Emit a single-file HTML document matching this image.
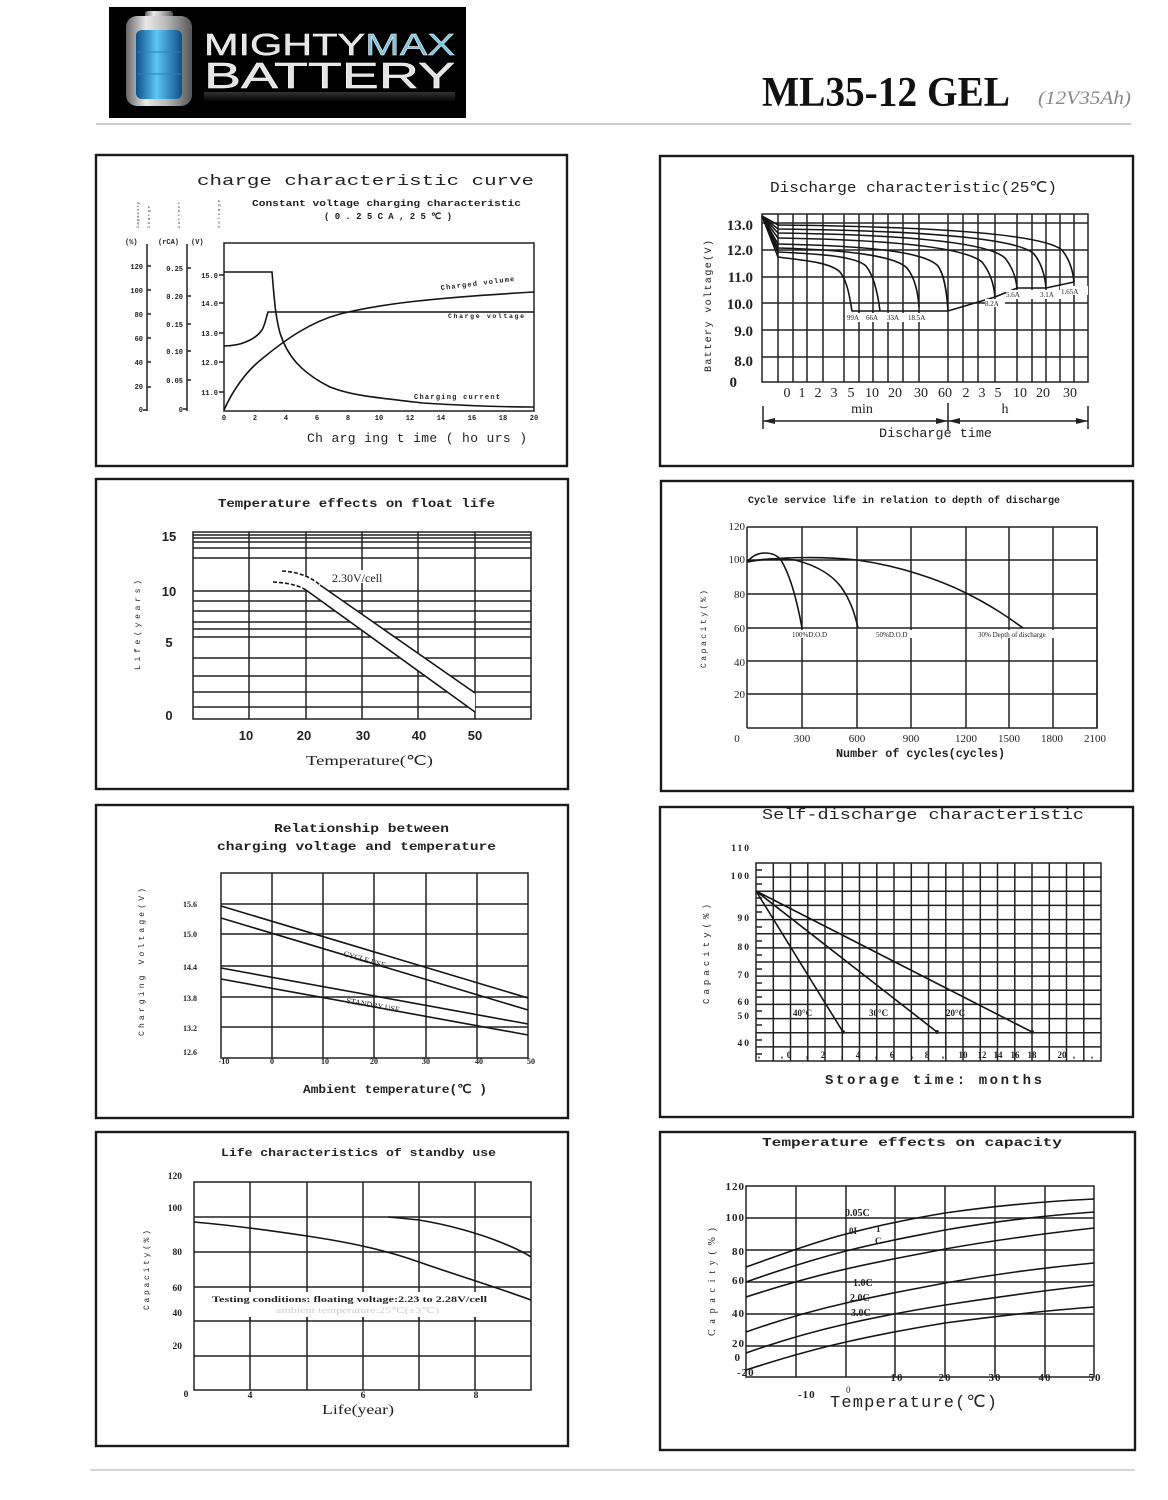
<!DOCTYPE html>
<html><head><meta charset="utf-8"><style>
html,body{margin:0;padding:0;background:#fff;}
svg{display:block;}
text{font-family:"Liberation Mono","DejaVu Sans Mono",monospace;fill:#222;}
text.s,.s text{font-family:"Liberation Serif",serif;}
.b{font-weight:bold;}
.g{stroke:#222;stroke-width:1.5;fill:none;}
.c{stroke:#151515;stroke-width:1.6;fill:none;}
.box{stroke:#1a1a1a;stroke-width:2.4;fill:#fff;}
</style></head><body>
<svg width="1168" height="1500" viewBox="0 0 1168 1500" xmlns="http://www.w3.org/2000/svg">
<defs>
<linearGradient id="silver" x1="0" x2="1" y1="0" y2="0">
<stop offset="0" stop-color="#666"/><stop offset="0.3" stop-color="#e8e8e8"/><stop offset="0.6" stop-color="#bbb"/><stop offset="1" stop-color="#555"/>
</linearGradient>
<linearGradient id="blue" x1="0" x2="1" y1="0" y2="0">
<stop offset="0" stop-color="#0d4f8a"/><stop offset="0.45" stop-color="#5cc6f2"/><stop offset="1" stop-color="#0e4f88"/>
</linearGradient>
<linearGradient id="refl" x1="0" x2="0" y1="0" y2="1">
<stop offset="0" stop-color="#555"/><stop offset="1" stop-color="#000"/>
</linearGradient>
</defs>
<rect width="1168" height="1500" fill="#fff"/>

<!-- Header logo -->
<rect x="109" y="7" width="357" height="111" fill="#000"/>
<rect x="145" y="11" width="28" height="9" rx="3" fill="url(#silver)"/>
<rect x="126" y="16" width="66" height="90" rx="11" fill="url(#silver)"/>
<rect x="136" y="30" width="46" height="69" rx="6" fill="url(#blue)"/>
<line x1="137" y1="52" x2="181" y2="52" stroke="#2a80bd" stroke-width="1"/>
<line x1="137" y1="74" x2="181" y2="74" stroke="#2a80bd" stroke-width="1"/>
<text x="204" y="55" textLength="251" lengthAdjust="spacingAndGlyphs" style="font-family:'Liberation Sans',sans-serif;font-size:31px;fill:#e4e4e4;stroke:#fff;stroke-width:0.4">MIGHTY<tspan style="fill:#7cc3df">MAX</tspan></text>
<text x="204" y="88" textLength="251" lengthAdjust="spacingAndGlyphs" style="font-family:'Liberation Sans',sans-serif;font-size:36px;fill:#e4e4e4;stroke:#fff;stroke-width:0.4">BATTERY</text>
<rect x="204" y="92" width="251" height="10" fill="url(#refl)" opacity="0.6"/>

<text x="762" y="106" textLength="248" lengthAdjust="spacingAndGlyphs" class="s b" style="font-size:42px;fill:#111">ML35-12 GEL</text>
<text x="1038" y="104" textLength="93" lengthAdjust="spacingAndGlyphs" class="s" style="font-size:19px;font-style:italic;fill:#888">(12V35Ah)</text>
<line x1="96" y1="124" x2="1131" y2="124" stroke="#aaa" stroke-width="1.2"/>
<line x1="90" y1="1470" x2="1135" y2="1470" stroke="#bbb" stroke-width="1.2"/>

<!-- ============ Chart 1 ============ -->
<rect class="box" x="96" y="155" width="471" height="311"/>
<text x="197" y="185" textLength="337" lengthAdjust="spacingAndGlyphs" style="font-size:15px">charge characteristic curve</text>
<text x="252" y="206" textLength="269" lengthAdjust="spacingAndGlyphs" class="b" style="font-size:9px">Constant voltage charging characteristic</text>
<text x="324" y="219" textLength="128" lengthAdjust="spacing" class="b" style="font-size:9px">(0.25CA,25℃)</text>
<g style="font-size:4px;fill:#777">
<text transform="translate(139,228) rotate(-90)" textLength="26">Capacity</text>
<text transform="translate(150,228) rotate(-90)" textLength="22">Charge</text>
<text transform="translate(180,228) rotate(-90)" textLength="26">Current</text>
<text transform="translate(220,228) rotate(-90)" textLength="28">Voltage</text>
</g>
<g class="b" style="font-size:7px">
<text x="125" y="244">(%)</text><text x="158" y="244">(rCA)</text><text x="191" y="244">(V)</text>
</g>
<path class="g" d="M147,244 L147,411 M187,244 L187,411" stroke-width="1"/>
<g class="g" stroke-width="1">
<path d="M147,266h4M147,290h4M147,314h4M147,338h4M147,362h4M147,387h4M147,410h-4"/>
<path d="M187,268h4M187,296h4M187,324h4M187,351h4M187,380h4M187,409h-4"/>
<path d="M219,275h5M219,303h5M219,333h5M219,362h5M219,392h5"/>
</g>
<g class="b" style="font-size:7px" text-anchor="end">
<text x="143" y="269">120</text><text x="143" y="293">100</text><text x="143" y="317">80</text><text x="143" y="341">60</text><text x="143" y="365">40</text><text x="143" y="389">20</text><text x="143" y="412">0</text>
<text x="183" y="271">0.25</text><text x="183" y="299">0.20</text><text x="183" y="327">0.15</text><text x="183" y="354">0.10</text><text x="183" y="383">0.05</text><text x="183" y="412">0</text>
<text x="218" y="278">15.0</text><text x="218" y="306">14.0</text><text x="218" y="336">13.0</text><text x="218" y="365">12.0</text><text x="218" y="395">11.0</text>
</g>
<rect class="g" x="224" y="243" width="310" height="168"/>
<g class="b" style="font-size:7px" text-anchor="middle">
<text x="224" y="420">0</text><text x="255" y="420">2</text><text x="286" y="420">4</text><text x="317" y="420">6</text><text x="348" y="420">8</text><text x="379" y="420">10</text><text x="410" y="420">12</text><text x="441" y="420">14</text><text x="472" y="420">16</text><text x="503" y="420">18</text><text x="534" y="420">20</text>
</g>
<path class="c" d="M224,272 L272,272 C274,295 275,315 280,333 C287,355 300,372 330,387 C350,395 370,397 423,403 C470,406 500,407 534,407"/>
<path class="c" d="M224,346 C240,346 255,340 262,330 C265,325 266,318 268,312 L534,312"/>
<path class="c" d="M224,410 C232,392 245,372 263,358 C285,340 310,322 340,314 C380,304 430,298 534,292"/>
<text transform="translate(441,290) rotate(-7)" textLength="74" class="b" style="font-size:7px">Charged volume</text>
<text x="448" y="318" textLength="76" class="b" style="font-size:6.5px">Charge voltage</text>
<text x="414" y="399" textLength="86" class="b" style="font-size:7px">Charging current</text>
<text x="307" y="442" textLength="220" lengthAdjust="spacing" style="font-size:13px">Ch arg ing t ime ( ho urs )</text>

<!-- ============ Chart 2 ============ -->
<rect class="box" x="660" y="156" width="473" height="310"/>
<text x="770" y="192" textLength="287" lengthAdjust="spacingAndGlyphs" style="font-size:15px">Discharge characteristic(25℃)</text>
<rect class="g" x="762" y="214" width="326" height="168"/>
<path class="g" d="M762,223H1088M762,250H1088M762,277H1088M762,303H1088M762,330H1088M762,357H1088"/>
<path class="g" d="M778,214V382M793,214V382M807,214V382M823,214V382M844,214V382M859,214V382M873,214V382M888,214V382M903,214V382M919,214V382M948,214V382M963,214V382M978,214V382M995,214V382M1017,214V382M1032,214V382M1046,214V382M1060,214V382M1074,214V382"/>
<g class="s b" style="font-size:15px" text-anchor="end">
<text x="753" y="230">13.0</text><text x="753" y="255">12.0</text><text x="753" y="282">11.0</text><text x="753" y="309">10.0</text><text x="753" y="336">9.0</text><text x="753" y="366">8.0</text><text x="737" y="387">0</text>
</g>
<text transform="translate(711,372) rotate(-90)" textLength="132" lengthAdjust="spacing" style="font-size:10px">Battery voltage(V)</text>
<g class="s" style="font-size:14px" text-anchor="middle">
<text x="787" y="397">0</text><text x="802" y="397">1</text><text x="818" y="397">2</text><text x="834" y="397">3</text><text x="851" y="397">5</text><text x="872" y="397">10</text><text x="895" y="397">20</text><text x="921" y="397">30</text><text x="945" y="397">60</text><text x="966" y="397">2</text><text x="982" y="397">3</text><text x="998" y="397">5</text><text x="1020" y="397">10</text><text x="1043" y="397">20</text><text x="1070" y="397">30</text>
</g>
<path class="c" d="M762,216 L778,257 C800,260 830,262 840,272 C848,282 850,300 852,311 L948,311 L995,297 L1017,288 L1046,288 L1074,282"/>
<path class="c" d="M762,216 L778,252 C820,254 855,256 866,266 C874,276 878,295 880,311"/>
<path class="c" d="M762,216 L778,248 C850,250 895,256 907,268 C915,278 918,292 919,307"/>
<path class="c" d="M762,216 L778,244 C870,246 925,252 938,266 C945,276 947,295 948,311"/>
<path class="c" d="M762,216 L778,238 C900,240 965,248 982,262 C990,272 994,285 995,297"/>
<path class="c" d="M762,216 L778,233 C920,235 990,244 1005,258 C1013,268 1016,278 1017,288"/>
<path class="c" d="M762,216 L778,229 C940,231 1020,240 1034,254 C1042,264 1045,276 1046,288"/>
<path class="c" d="M762,216 L778,225 C960,227 1045,236 1062,250 C1070,260 1073,272 1074,282"/>
<g class="s" style="font-size:7px">
<rect x="846" y="313" width="90" height="9" fill="#fff"/>
<text x="847" y="320">99A</text><text x="866" y="320">66A</text><text x="887" y="320">33A</text><text x="908" y="320">18.5A</text>
<rect x="985" y="299" width="20" height="8" fill="#fff"/>
<text x="985" y="306">8.2A</text>
<rect x="1006" y="290" width="60" height="9" fill="#fff"/>
<text x="1006" y="297">5.6A</text><text x="1040" y="297">3.1A</text>
<rect x="1060" y="286" width="28" height="9" fill="#fff"/>
<text x="1061" y="294">1.65A</text>
</g>
<text x="862" y="413" class="s" style="font-size:14px" text-anchor="middle">min</text>
<text x="1005" y="413" class="s" style="font-size:14px" text-anchor="middle">h</text>
<path class="g" d="M763,421H1088M763,406V429M948,403V431M1088,406V429" stroke-width="1.2"/>
<path d="M763,421l12,-3v6zM948,421l-12,-3v6zM948,421l12,-3v6zM1088,421l-12,-3v6z" fill="#222"/>
<text x="879" y="437" textLength="113" lengthAdjust="spacingAndGlyphs" style="font-size:13px">Discharge time</text>

<!-- ============ Chart 3 ============ -->
<rect class="box" x="96" y="479" width="472" height="310"/>
<text x="218" y="507" textLength="277" lengthAdjust="spacingAndGlyphs" class="b" style="font-size:12px">Temperature effects on float life</text>
<rect class="g" x="193" y="532" width="338" height="187"/>
<path class="g" d="M193,535H531M193,538H531M193,542H531M193,548H531M193,558H531M193,591H531M193,601H531M193,611H531M193,622H531M193,629H531M193,637H531M193,658H531M193,676H531M193,692H531M193,707H531"/>
<path class="g" d="M249,532V719M306,532V719M362,532V719M418,532V719M475,532V719"/>
<g style="font-family:'Liberation Sans',sans-serif;font-size:13px;font-weight:bold" text-anchor="middle">
<text x="169" y="541" style="font-family:'Liberation Sans',sans-serif">15</text><text x="169" y="596" style="font-family:'Liberation Sans',sans-serif">10</text><text x="169" y="647" style="font-family:'Liberation Sans',sans-serif">5</text><text x="169" y="720" style="font-family:'Liberation Sans',sans-serif">0</text>
<text x="246" y="740" style="font-family:'Liberation Sans',sans-serif">10</text><text x="304" y="740" style="font-family:'Liberation Sans',sans-serif">20</text><text x="363" y="740" style="font-family:'Liberation Sans',sans-serif">30</text><text x="419" y="740" style="font-family:'Liberation Sans',sans-serif">40</text><text x="475" y="740" style="font-family:'Liberation Sans',sans-serif">50</text>
</g>
<text transform="translate(140,670) rotate(-90)" textLength="90" lengthAdjust="spacing" style="font-size:8px">Life(years)</text>
<path d="M282,571 C300,572 312,578 320,585 L475,693 L475,712 L306,590 C298,585 285,582 273,582 Z" fill="#fff"/>
<path class="c" d="M282,571 C300,572 312,578 320,585" stroke-dasharray="4,2"/>
<path class="c" d="M320,585 L475,693"/>
<path class="c" d="M273,582 C290,583 300,586 306,590" stroke-dasharray="4,2"/>
<path class="c" d="M306,590 L475,712"/>
<rect x="330" y="570" width="75" height="13" fill="#fff"/>
<text x="332" y="582" class="s" style="font-size:12px">2.30V/cell</text>
<text x="306" y="765" textLength="127" lengthAdjust="spacingAndGlyphs" class="s" style="font-size:14px">Temperature(℃)</text>

<!-- ============ Chart 4 ============ -->
<rect class="box" x="661" y="481" width="472" height="310"/>
<text x="748" y="503" textLength="312" lengthAdjust="spacingAndGlyphs" class="b" style="font-size:10px">Cycle service life in relation to depth of discharge</text>
<path class="g" d="M747,527H1097V728H747M747,560H1097M747,594H1097M747,628H1097M747,661H1097M747,694H1097"/>
<path class="g" d="M747,527V728M802,527V728M857,527V728M911,527V728M966,527V728M1009,527V728M1053,527V728M1097,527V728"/>
<g class="s" style="font-size:11px">
<g text-anchor="end"><text x="745" y="530">120</text><text x="745" y="563">100</text><text x="745" y="598">80</text><text x="745" y="632">60</text><text x="745" y="666">40</text><text x="745" y="698">20</text></g>
<g text-anchor="middle"><text x="737" y="742">0</text><text x="802" y="742">300</text><text x="857" y="742">600</text><text x="911" y="742">900</text><text x="966" y="742">1200</text><text x="1009" y="742">1500</text><text x="1052" y="742">1800</text><text x="1095" y="742">2100</text></g>
</g>
<text transform="translate(706,668) rotate(-90)" textLength="78" lengthAdjust="spacing" style="font-size:8px">Capacity(%)</text>
<path class="c" d="M747,562 C752,556 758,553 765,553 C772,553 777,555 781,560 C788,572 795,590 802,628"/>
<path class="c" d="M747,562 C765,558 780,558 795,560 C815,565 835,575 845,593 C852,605 855,615 858,628"/>
<path class="c" d="M747,562 C775,557 820,556 857,560 C900,566 940,580 966,593 C990,605 1005,615 1023,628"/>
<g class="s" style="font-size:7px">
<rect x="790" y="630" width="50" height="8" fill="#fff"/><text x="792" y="637">100%D.O.D</text>
<rect x="874" y="630" width="44" height="8" fill="#fff"/><text x="876" y="637">50%D.O.D</text>
<rect x="976" y="630" width="108" height="8" fill="#fff"/><text x="978" y="637">30% Depth of discharge</text>
</g>
<text x="836" y="757" textLength="169" lengthAdjust="spacingAndGlyphs" class="b" style="font-size:12px">Number of cycles(cycles)</text>

<!-- ============ Chart 5 ============ -->
<rect class="box" x="96" y="805" width="472" height="313"/>
<text x="274" y="832" textLength="175" lengthAdjust="spacingAndGlyphs" class="b" style="font-size:12px">Relationship between</text>
<text x="217" y="850" textLength="279" lengthAdjust="spacingAndGlyphs" class="b" style="font-size:12px">charging voltage and temperature</text>
<rect class="g" x="221" y="873" width="307" height="185"/>
<path class="g" d="M221,904H528M221,934H528M221,966H528M221,997H528M221,1027H528"/>
<path class="g" d="M272,873V1058M323,873V1058M374,873V1058M426,873V1058M477,873V1058"/>
<g class="s b" style="font-size:8px;fill:#444">
<g text-anchor="end"><text x="197" y="907">15.6</text><text x="197" y="937">15.0</text><text x="197" y="970">14.4</text><text x="197" y="1001">13.8</text><text x="197" y="1031">13.2</text><text x="197" y="1055">12.6</text></g>
<g text-anchor="middle"><text x="224" y="1064">-10</text><text x="272" y="1064">0</text><text x="325" y="1064">10</text><text x="374" y="1064">20</text><text x="426" y="1064">30</text><text x="479" y="1064">40</text><text x="531" y="1064">50</text></g>
</g>
<text transform="translate(144,1036) rotate(-90)" textLength="148" lengthAdjust="spacing" style="font-size:8px">Charging Voltage(V)</text>
<path class="c" d="M221,906 L528,998M221,918 L528,1010M221,968 L528,1024M221,979 L528,1035"/>
<text transform="translate(343,956) rotate(16)" class="s" style="font-size:8px">CYCLE USE</text>
<text transform="translate(346,1003) rotate(10)" class="s" style="font-size:8px">STANDBY USE</text>
<text x="303" y="1093" textLength="184" lengthAdjust="spacingAndGlyphs" class="b" style="font-size:12px">Ambient temperature(℃ )</text>

<!-- ============ Chart 6 ============ -->
<rect class="box" x="660" y="807" width="473" height="310"/>
<text x="762" y="819" textLength="322" lengthAdjust="spacingAndGlyphs" style="font-size:15px">Self-discharge characteristic</text>
<rect class="g" x="756" y="863" width="345" height="198"/>
<path class="g" d="M756,877.1H1101M756,891.3H1101M756,905.4H1101M756,919.6H1101M756,933.7H1101M756,947.9H1101M756,962H1101M756,976.1H1101M756,990.3H1101M756,1004.4H1101M756,1018.6H1101M756,1032.7H1101M756,1046.9H1101"/>
<path class="g" d="M773.3,863V1061M790.5,863V1061M807.8,863V1061M825,863V1061M842.3,863V1061M859.5,863V1061M876.8,863V1061M894,863V1061M911.3,863V1061M928.5,863V1061M945.8,863V1061M963,863V1061M980.3,863V1061M997.5,863V1061M1014.8,863V1061M1032,863V1061M1049.3,863V1061M1066.5,863V1061M1083.8,863V1061"/>
<path class="g" d="M756,870h6M756,884h6M756,898h6M756,912h6M756,927h6M756,941h6M756,955h6M756,969h6M756,983h6M756,997h6M756,1011h6M756,1025h6M756,1040h6M756,1054h6"/>
<g class="s b" style="font-size:9.5px;letter-spacing:2px" text-anchor="end">
<text x="751" y="851">110</text><text x="751" y="879">100</text><text x="751" y="921">90</text><text x="751" y="950">80</text><text x="751" y="978">70</text><text x="751" y="1005">60</text><text x="751" y="1019">50</text><text x="751" y="1046">40</text>
</g>
<text transform="translate(709,1004) rotate(-90)" textLength="100" lengthAdjust="spacing" style="font-size:9px">Capacity(%)</text>
<g class="s b" style="font-size:9px" text-anchor="middle">
<text x="789" y="1058">0</text><text x="823" y="1058">2</text><text x="858" y="1058">4</text><text x="892" y="1058">6</text><text x="927" y="1058">8</text><text x="963" y="1058">10</text><text x="982" y="1058">12</text><text x="998" y="1058">14</text><text x="1015" y="1058">16</text><text x="1032" y="1058">18</text><text x="1062" y="1058">20</text>
<text x="759" y="1058">,</text><text x="782" y="1058">,</text><text x="807" y="1058">,</text><text x="842" y="1058">,</text><text x="876" y="1058">,</text><text x="912" y="1058">,</text><text x="943" y="1058">,</text><text x="1074" y="1058">,</text><text x="1092" y="1058">,</text>
</g>
<path class="c" d="M756,891 L843,1032M756,891 L937,1032M756,891 L1032,1032"/>
<circle cx="843" cy="1032" r="2" fill="#222"/><circle cx="937" cy="1032" r="2" fill="#222"/><circle cx="1032" cy="1032" r="2" fill="#222"/>
<g class="s b" style="font-size:9px">
<text x="793" y="1016">40°C</text><text x="869" y="1016">30°C</text><text x="946" y="1016">20°C</text>
</g>
<text x="825" y="1084" textLength="217" lengthAdjust="spacing" class="b" style="font-size:14px">Storage time: months</text>

<!-- ============ Chart 7 ============ -->
<rect class="box" x="96" y="1132" width="472" height="314"/>
<text x="221" y="1156" textLength="275" lengthAdjust="spacingAndGlyphs" class="b" style="font-size:11px">Life characteristics of standby  use</text>
<rect class="g" x="194" y="1182" width="337" height="208"/>
<path class="g" d="M194,1217H531M194,1252H531M194,1287H531M194,1321H531M194,1356H531"/>
<path class="g" d="M250,1182V1390M307,1182V1390M363,1182V1390M419,1182V1390M475,1182V1390"/>
<g class="s b" style="font-size:9.5px">
<g text-anchor="end"><text x="182" y="1179">120</text><text x="182" y="1211">100</text><text x="182" y="1255">80</text><text x="182" y="1291">60</text><text x="182" y="1316">40</text><text x="182" y="1349">20</text></g>
<g text-anchor="middle"><text x="186" y="1397">0</text><text x="250" y="1398">4</text><text x="363" y="1398">6</text><text x="476" y="1398">8</text></g>
</g>
<text transform="translate(149,1310) rotate(-90)" textLength="80" lengthAdjust="spacing" style="font-size:8px">Capacity(%)</text>
<path class="c" d="M194,1222 C230,1225 260,1229 307,1236 C340,1241 380,1248 419,1262 C450,1273 490,1285 531,1300"/>
<path class="c" d="M388,1217 C400,1218 410,1219 419,1220 C450,1225 480,1234 500,1242 C515,1248 525,1253 531,1257"/>
<rect x="205" y="1292" width="290" height="25" fill="#fff"/>
<path class="g" d="M250,1317V1321M307,1317V1321M363,1317V1321M419,1317V1321M475,1317V1321"/>
<text x="212" y="1302" textLength="275" lengthAdjust="spacingAndGlyphs" class="s b" style="font-size:8.5px">Testing conditions: floating voltage:2.23 to 2.28V/cell</text>
<text x="276" y="1313" textLength="163" lengthAdjust="spacingAndGlyphs" class="s" style="font-size:8px;fill:#ccc">ambient temperature:25℃(±3℃)</text>
<text x="322" y="1414" textLength="72" lengthAdjust="spacingAndGlyphs" class="s" style="font-size:14px">Life(year)</text>

<!-- ============ Chart 8 ============ -->
<rect class="box" x="660" y="1132" width="475" height="318"/>
<text x="762" y="1146" textLength="300" lengthAdjust="spacingAndGlyphs" class="b" style="font-size:12px">Temperature effects on capacity</text>
<rect class="g" x="746" y="1186" width="348" height="191"/>
<path class="g" d="M746,1218H1094M746,1250H1094M746,1282H1094M746,1314H1094M746,1346H1094"/>
<path class="g" d="M796,1186V1377M846,1186V1377M895,1186V1377M945,1186V1377M995,1186V1377M1045,1186V1377"/>
<g class="s b" style="font-size:11px;letter-spacing:1px">
<g text-anchor="end"><text x="745" y="1190">120</text><text x="745" y="1221">100</text><text x="745" y="1255">80</text><text x="745" y="1284">60</text><text x="745" y="1317">40</text><text x="745" y="1347">20</text><text x="741" y="1361">0</text></g>
<text x="737" y="1376">-20</text>
<g text-anchor="middle" style="fill:#555"><text x="897" y="1381">10</text><text x="945" y="1381">20</text><text x="995" y="1381">30</text><text x="1045" y="1381">40</text><text x="1095" y="1381">50</text></g>
<text x="798" y="1398">-10</text>
</g>
<text transform="translate(715,1336) rotate(-90)" textLength="108" lengthAdjust="spacing" class="s" style="font-size:10px">Capacity(%)</text>
<path class="c" d="M746,1267 C780,1255 815,1242 846,1234 C880,1225 915,1218 945,1213 C980,1208 1030,1202 1094,1199"/>
<path class="c" d="M746,1282 C780,1270 815,1259 846,1251 C880,1242 915,1236 945,1230 C990,1222 1040,1216 1094,1212"/>
<path class="c" d="M746,1297 C780,1286 815,1276 846,1269 C880,1261 915,1255 945,1249 C990,1241 1040,1234 1094,1228"/>
<path class="c" d="M746,1332 C780,1320 815,1310 846,1303 C880,1295 915,1289 945,1283 C990,1275 1040,1268 1094,1263"/>
<path class="c" d="M746,1353 C780,1341 815,1331 846,1324 C880,1316 915,1310 945,1305 C990,1298 1040,1291 1094,1285"/>
<path class="c" d="M746,1370 C780,1359 815,1349 846,1342 C880,1334 915,1328 945,1323 C990,1317 1040,1311 1094,1307"/>
<g class="s b" style="font-size:10px">
<text x="845" y="1216">0.05C</text>
<text x="849" y="1234" style="font-size:9px">0I</text><text x="876" y="1232" style="font-size:9px">1</text><text x="875" y="1244" style="font-size:9px">C</text>
<text x="853" y="1286">1.0C</text><text x="850" y="1301">2.0C</text><text x="851" y="1316">3.0C</text>
</g>
<text x="846" y="1393" class="s" style="font-size:9px">0</text>
<text x="830" y="1407" textLength="167" lengthAdjust="spacing" style="font-size:17px">Temperature(℃)</text>
</svg>
</body></html>
